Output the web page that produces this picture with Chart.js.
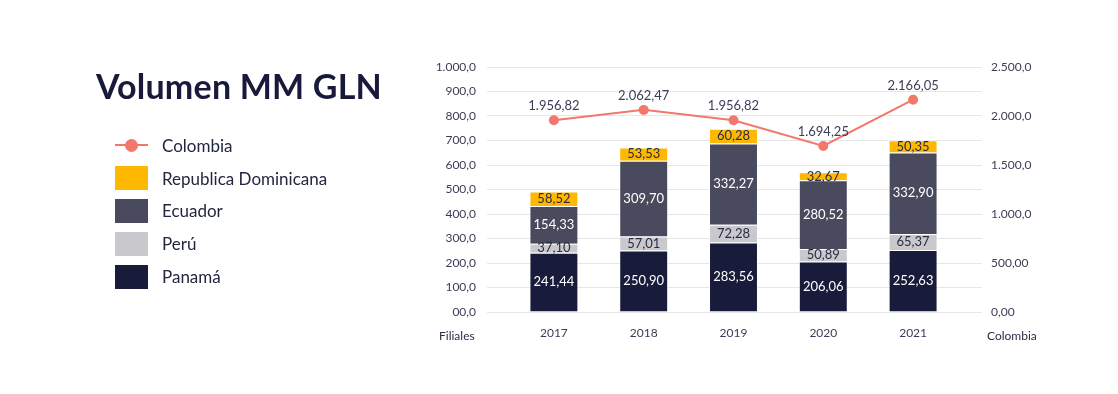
<!DOCTYPE html>
<html>
<head>
<meta charset="utf-8">
<script src="https://cdn.jsdelivr.net/npm/chart.js@4.4.1/dist/chart.umd.min.js"></script>
<style>
  body { margin: 0; background: #fff; font-family: Lato, "Noto Sans", sans-serif; }
  #wrap { position: relative; width: 1118px; height: 394px; }
  #chart { position: absolute; left: 0; top: 0; }
  h1 { position: absolute; left: 96px; top: 65px; margin: 0; font-size: 34px; font-weight: 700; color: #171a3b; letter-spacing: 0.2px; }
  #legend { position: absolute; left: 115px; top: 129px; }
  .item { display: flex; align-items: center; height: 32.8px; font-size: 17px; color: #23263f; }
  .icon { width: 33px; height: 24px; margin-right: 14px; position: relative; }
  .axisname { position: absolute; top: 328px; font-size: 12px; color: #2b2e47; }
</style>
</head>
<body>
<div id="wrap">
  <canvas id="chart" width="1118" height="394"></canvas>
  <h1>Volumen MM GLN</h1>
  <div id="legend"></div>
  <div class="axisname" style="left:439px">Filiales</div>
  <div class="axisname" style="left:987px">Colombia</div>
</div>
<script>
// datos
const years = ['2017', '2018', '2019', '2020', '2021']
const panama = [241.44, 250.90, 283.56, 206.06, 252.63]
const peru = [37.10, 57.01, 72.28, 50.89, 65.37]
const ecuador = [154.33, 309.70, 332.27, 280.52, 332.90]
const repDominicana = [58.52, 53.53, 60.28, 32.67, 50.35]
const colombia = [1956.82, 2062.47, 1956.82, 1694.25, 2166.05]

const leftTicks = ['00,0', '100,0', '200,0', '300,0', '400,0', '500,0', '600,0', '700,0', '800,0', '900,0', '1.000,0']
const rightTicks = ['0,00', '', '500,00', '', '1.000,0', '', '1.500,0', '', '2.000,0', '', '2.500,0']

const textColor = '#3b3e56'

function fmt(v) {
  const [i, f] = v.toFixed(2).split('.')
  return i.replace(/\B(?=(\d{3})+(?!\d))/g, '.') + ',' + f
}

// barras de abajo hacia arriba, la linea primero
const datasets = [
  { type: 'line', label: 'Colombia', data: colombia, yAxisID: 'y1', borderColor: '#f2786c', backgroundColor: '#f2786c',
    borderWidth: 2, pointRadius: 4, pointHoverRadius: 4, order: 0, labelColor: textColor },
  { label: 'Panamá', data: panama, backgroundColor: '#181b3a', labelColor: '#ffffff' },
  { label: 'Perú', data: peru, backgroundColor: '#c8c8cd', labelColor: '#2a2c44' },
  { label: 'Ecuador', data: ecuador, backgroundColor: '#4a4a5e', labelColor: '#ffffff' },
  { label: 'Republica Dominicana', data: repDominicana, backgroundColor: '#ffb800', labelColor: '#2a2c44' }
]
datasets.slice(1).forEach(d => {
  d.type = 'bar'
  d.yAxisID = 'y'
  d.stack = 'filiales'
  d.order = 1
  d.borderColor = 'rgba(255,255,255,0.55)'
  d.borderWidth = 1
})

// leyenda html (linea y luego barras de arriba hacia abajo)
const legend = document.getElementById('legend')
const legendOrder = [datasets[0]].concat(datasets.slice(1).reverse())
legendOrder.forEach(d => {
  const row = document.createElement('div')
  row.className = 'item'
  const icon = document.createElement('div')
  icon.className = 'icon'
  if (d.type === 'line') {
    icon.innerHTML = '<div style="position:absolute;left:0;top:11px;width:33px;height:2px;background:' + d.borderColor + '"></div>' +
      '<div style="position:absolute;left:10px;top:6px;width:13px;height:13px;border-radius:50%;background:' + d.borderColor + '"></div>'
  } else {
    icon.style.background = d.backgroundColor
  }
  row.appendChild(icon)
  row.appendChild(document.createTextNode(d.label))
  legend.appendChild(row)
})

const valueLabels = {
  id: 'valueLabels',
  afterDatasetsDraw(chart) {
    const ctx = chart.ctx
    ctx.save()
    ctx.font = '13px Lato, "Noto Sans", sans-serif'
    ctx.textAlign = 'center'
    ctx.textBaseline = 'middle'
    chart.data.datasets.forEach((ds, i) => {
      const meta = chart.getDatasetMeta(i)
      ctx.fillStyle = ds.labelColor
      meta.data.forEach((el, j) => {
        const txt = fmt(ds.data[j])
        if (ds.type === 'line') {
          ctx.fillText(txt, el.x, el.y - 14)
        } else {
          ctx.fillText(txt, el.x, (el.y + el.base) / 2)
        }
      })
    })
    ctx.restore()
  }
}

new Chart(document.getElementById('chart'), {
  data: { labels: years, datasets: datasets },
  plugins: [valueLabels],
  options: {
    responsive: false,
    animation: false,
    events: [],
    layout: { padding: { left: 420, right: 80, top: 67, bottom: 52 } },
    plugins: { legend: { display: false }, tooltip: { enabled: false } },
    datasets: { bar: { barPercentage: 0.545, categoryPercentage: 1 } },
    scales: {
      x: {
        stacked: true,
        grid: { display: false },
        border: { display: false },
        ticks: { color: textColor, font: { size: 12, family: 'Lato' }, padding: 6 },
        afterFit: s => { s.height = 30 }
      },
      y: {
        position: 'left',
        stacked: true,
        min: 0,
        max: 1000,
        ticks: { stepSize: 100, color: textColor, font: { size: 12, family: 'Lato' }, padding: 11,
          callback: (v, i) => leftTicks[i] },
        grid: { color: '#e6e6ea', lineWidth: 1, tickLength: 22, tickColor: '#e6e6ea' },
        border: { display: false },
        afterFit: s => { s.width = 89 }
      },
      y1: {
        position: 'right',
        min: 0,
        max: 2500,
        ticks: { stepSize: 250, color: textColor, font: { size: 12, family: 'Lato' }, padding: 9,
          callback: (v, i) => rightTicks[i] },
        grid: { drawOnChartArea: false, tickLength: 24, tickColor: '#e6e6ea' },
        border: { display: false },
        afterFit: s => { s.width = 80 }
      }
    }
  }
})
</script>
</body>
</html>
